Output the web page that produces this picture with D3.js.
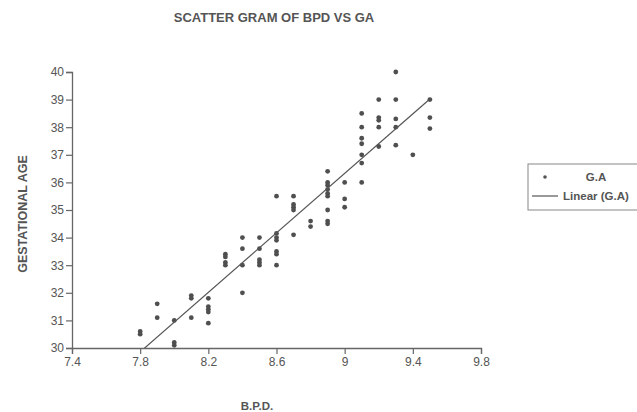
<!DOCTYPE html>
<html>
<head>
<meta charset="utf-8">
<script src="https://cdn.jsdelivr.net/npm/d3@7"></script>
<style>
  body { margin: 0; background: #fff; }
  svg text { font-family: "Liberation Sans", Arial, sans-serif; fill: #555; }
</style>
</head>
<body>
<div id="chart"></div>
<script>
// B.P.D. (cm) readings, grouped by column
const bpd = [
  7.8, 7.8,
  7.9, 7.9,
  8.0, 8.0, 8.0,
  8.1, 8.1, 8.1,
  8.2, 8.2, 8.2, 8.2, 8.2,
  8.3, 8.3, 8.3, 8.3,
  8.4, 8.4, 8.4, 8.4,
  8.5, 8.5, 8.5, 8.5, 8.5,
  8.6, 8.6, 8.6, 8.6, 8.6, 8.6, 8.6,
  8.7, 8.7, 8.7, 8.7, 8.7,
  8.8, 8.8,
  8.9, 8.9, 8.9, 8.9, 8.9, 8.9, 8.9, 8.9, 8.9,
  9.0, 9.0, 9.0,
  9.1, 9.1, 9.1, 9.1, 9.1, 9.1, 9.1,
  9.2, 9.2, 9.2, 9.2, 9.2,
  9.3, 9.3, 9.3, 9.3, 9.3,
  9.4,
  9.5, 9.5, 9.5
];
// gestational age (weeks), same order
const ga = [
  30.6, 30.5,
  31.6, 31.1,
  31.0, 30.2, 30.1,
  31.9, 31.8, 31.1,
  31.8, 31.5, 31.4, 31.3, 30.9,
  33.4, 33.3, 33.1, 33.0,
  34.0, 33.6, 33.0, 32.0,
  34.0, 33.6, 33.2, 33.1, 33.0,
  35.5, 34.15, 34.0, 33.9, 33.5, 33.4, 33.0,
  35.5, 35.2, 35.1, 35.0, 34.1,
  34.6, 34.4,
  36.4, 36.0, 35.9, 35.75, 35.6, 35.5, 35.0, 34.6, 34.5,
  36.0, 35.4, 35.1,
  38.5, 38.0, 37.6, 37.4, 37.0, 36.7, 36.0,
  39.0, 38.35, 38.25, 38.0, 37.3,
  40.0, 39.0, 38.3, 38.0, 37.35,
  37.0,
  39.0, 38.35, 37.95
];
const xTicks = [7.4, 7.8, 8.2, 8.6, 9, 9.4, 9.8];
const yTicks = [30, 31, 32, 33, 34, 35, 36, 37, 38, 39, 40];
const legendLabels = ["G.A", "Linear (G.A)"];

const width = 637, height = 412;
const plotL = 72, plotR = 481, plotT = 72, plotB = 348;

const svg = d3.select("#chart").append("svg")
  .attr("width", width)
  .attr("height", height);

const x = d3.scaleLinear().domain([7.4, 9.8]).range([plotL, plotR]);
const y = d3.scaleLinear().domain([30, 40]).range([plotB, plotT]);

const points = bpd.map((b, i) => ({ b: b, g: ga[i] }));

// least squares fit, drawn over the data's x range like an Excel trendline
const mx = d3.mean(bpd), my = d3.mean(ga);
const slope = d3.sum(points, d => (d.b - mx) * (d.g - my)) / d3.sum(points, d => (d.b - mx) ** 2);
const icpt = my - slope * mx;
const fit = d3.extent(bpd).map(b => ({ b: b, g: icpt + slope * b }));

svg.append("defs").append("clipPath").attr("id", "plot")
  .append("rect")
  .attr("x", plotL).attr("y", plotT)
  .attr("width", plotR - plotL).attr("height", plotB - plotT);

// axes
const xAxis = svg.append("g")
  .attr("transform", `translate(0,${plotB})`)
  .call(d3.axisBottom(x).tickValues(xTicks).tickSize(6).tickPadding(3).tickFormat(d3.format("~g")));
const yAxis = svg.append("g")
  .attr("transform", `translate(${plotL},0)`)
  .call(d3.axisLeft(y).tickValues(yTicks).tickSize(6).tickPadding(2));

[xAxis, yAxis].forEach(a => {
  a.select(".domain").attr("stroke", "#666").attr("stroke-width", 1.3);
  a.selectAll(".tick line").attr("stroke", "#666").attr("stroke-width", 1.2);
  a.selectAll(".tick text").style("font-size", "12px").attr("fill", "#555");
});

// points
svg.append("g")
  .selectAll("circle")
  .data(points)
  .enter()
  .append("circle")
  .attr("cx", d => x(d.b))
  .attr("cy", d => y(d.g))
  .attr("r", 2.4)
  .attr("fill", "#4f4f4f");

// trendline
svg.append("path")
  .datum(fit)
  .attr("clip-path", "url(#plot)")
  .attr("fill", "none")
  .attr("stroke", "#555")
  .attr("stroke-width", 1.2)
  .attr("d", d3.line().x(d => x(d.b)).y(d => y(d.g)));

// titles
svg.append("text")
  .attr("x", 274).attr("y", 22)
  .attr("text-anchor", "middle")
  .style("font-size", "13px").style("font-weight", "bold")
  .text("SCATTER GRAM OF BPD VS GA");

svg.append("text")
  .attr("x", 257).attr("y", 410)
  .attr("text-anchor", "middle")
  .style("font-size", "11.5px").style("font-weight", "bold")
  .text("B.P.D.");

svg.append("text")
  .attr("transform", "translate(27,214) rotate(-90)")
  .attr("text-anchor", "middle")
  .style("font-size", "12.5px").style("font-weight", "bold")
  .text("GESTATIONAL AGE");

// legend
const lg = svg.append("g");
lg.append("rect")
  .attr("x", 528).attr("y", 164)
  .attr("width", 120).attr("height", 46)
  .attr("fill", "none").attr("stroke", "#888").attr("stroke-width", 1);
lg.append("circle")
  .attr("cx", 545).attr("cy", 177).attr("r", 1.8).attr("fill", "#555");
lg.append("line")
  .attr("x1", 532).attr("x2", 558).attr("y1", 196).attr("y2", 196)
  .attr("stroke", "#555").attr("stroke-width", 1.2);
lg.append("text")
  .attr("x", 596).attr("y", 181)
  .attr("text-anchor", "middle")
  .style("font-size", "11.5px").style("font-weight", "bold")
  .text(legendLabels[0]);
lg.append("text")
  .attr("x", 563).attr("y", 200)
  .style("font-size", "11.5px").style("font-weight", "bold")
  .text(legendLabels[1]);
</script>
</body>
</html>
